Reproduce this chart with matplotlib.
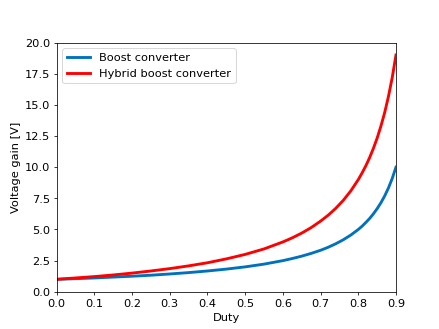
import matplotlib
matplotlib.use("Agg")
import matplotlib.pyplot as plt

# values
duty = [0.0, 0.05, 0.1, 0.15, 0.2, 0.25, 0.3, 0.35, 0.4, 0.45, 0.5, 0.55,
        0.6, 0.625, 0.65, 0.675, 0.7, 0.72, 0.74, 0.76, 0.78, 0.8, 0.81,
        0.82, 0.83, 0.84, 0.85, 0.86, 0.87, 0.88, 0.89, 0.9]
boost_gain = [1.0, 1.05, 1.11, 1.18, 1.25, 1.33, 1.43, 1.54, 1.67, 1.82,
              2.0, 2.22, 2.5, 2.67, 2.86, 3.08, 3.33, 3.57, 3.85, 4.17,
              4.55, 5.0, 5.26, 5.56, 5.88, 6.25, 6.67, 7.14, 7.69, 8.33,
              9.09, 10.0]
hybrid_gain = [1.0, 1.11, 1.22, 1.35, 1.5, 1.67, 1.86, 2.08, 2.33, 2.64,
               3.0, 3.44, 4.0, 4.33, 4.71, 5.15, 5.67, 6.14, 6.69, 7.33,
               8.09, 9.0, 9.53, 10.11, 10.76, 11.5, 12.33, 13.29, 14.38,
               15.67, 17.18, 19.0]

plt.rcParams["font.size"] = 12
fig, ax = plt.subplots(figsize=(6.4, 4.8), dpi=439 / 6.4)
fig.subplots_adjust(left=0.129, right=0.902, bottom=0.113, top=0.87)
ax.plot(duty, boost_gain, color="#0072BD", lw=3, label="Boost converter")
ax.plot(duty, hybrid_gain, color="#FF0000", lw=3, label="Hybrid boost converter")
ax.set_xlim(0, 0.9)
ax.set_ylim(0, 20)
ax.set_xticks([0.0, 0.1, 0.2, 0.3, 0.4, 0.5, 0.6, 0.7, 0.8, 0.9])
ax.set_yticks([0.0, 2.5, 5.0, 7.5, 10.0, 12.5, 15.0, 17.5, 20.0])
ax.set_xlabel("Duty")
ax.set_ylabel("Voltage gain [V]")
ax.legend(loc="upper left")
fig.savefig("out.png")
